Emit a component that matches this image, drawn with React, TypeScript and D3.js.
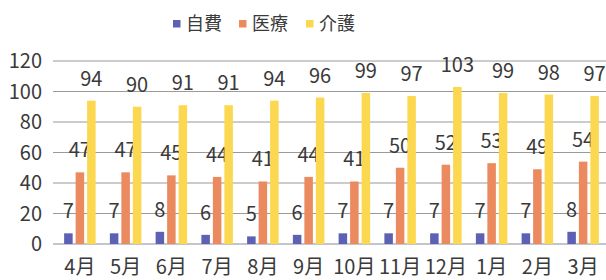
import React, { useEffect, useRef } from "react";
import * as d3 from "d3";

const months = ["4月", "5月", "6月", "7月", "8月", "9月", "10月", "11月", "12月", "1月", "2月", "3月"];
const seriesNames = ["自費", "医療", "介護"];
const jihi = [7, 7, 8, 6, 5, 6, 7, 7, 7, 7, 7, 8];
const iryo = [47, 47, 45, 44, 41, 44, 41, 50, 52, 53, 49, 54];
const kaigo = [94, 90, 91, 91, 94, 96, 99, 97, 103, 99, 98, 97];
const yTicks = [0, 20, 40, 60, 80, 100, 120];
const colors = ["#5d61b3", "#ec8a5f", "#fbd84f"];

const FONT = "'Noto Sans CJK JP', 'Noto Sans', sans-serif";

const App = () => {
  const ref = useRef<SVGSVGElement>(null);

  useEffect(() => {
    const svg = d3.select(ref.current);
    svg.selectAll("*").remove();

    const width = 606, height = 280;
    const values = [jihi, iryo, kaigo];

    const x = d3.scaleBand().domain(months).range([57, 606]).padding(0);
    const inner = d3.scaleBand().domain(seriesNames).range([-15.75, 15.75]).paddingInner(0.26);
    const y = d3.scaleLinear().domain([0, 120]).range([244, 61]);

    svg.append("rect").attr("width", width).attr("height", height).attr("fill", "#fff");

    // gridlines
    svg.append("g")
      .selectAll("line")
      .data(yTicks)
      .enter()
      .append("line")
      .attr("x1", 53)
      .attr("x2", width)
      .attr("y1", (d) => y(d))
      .attr("y2", (d) => y(d))
      .attr("stroke", (d) => (d === 0 ? "#8a8a9a" : "#9a9a9a"))
      .attr("stroke-width", 1.2);

    // y labels
    svg.append("g")
      .selectAll("text")
      .data(yTicks)
      .enter()
      .append("text")
      .attr("x", 42)
      .attr("y", (d) => y(d))
      .attr("dy", "0.36em")
      .attr("text-anchor", "end")
      .attr("font-family", FONT)
      .attr("font-size", 20)
      .attr("fill", "#3a3a3a")
      .text((d) => d);

    // bars + labels
    seriesNames.forEach((name, si) => {
      const cx = (i: number) => (x(months[i]) as number) + x.bandwidth() / 2 + (inner(name) as number);
      const g = svg.append("g");
      g.selectAll("rect")
        .data(values[si])
        .enter()
        .append("rect")
        .attr("x", (d, i) => cx(i))
        .attr("y", (d) => y(d))
        .attr("width", inner.bandwidth())
        .attr("height", (d) => y(0) - y(d))
        .attr("fill", colors[si]);
      g.selectAll("text")
        .data(values[si])
        .enter()
        .append("text")
        .attr("x", (d, i) => cx(i) + inner.bandwidth() / 2)
        .attr("y", (d) => y(d) - 15)
        .attr("text-anchor", "middle")
        .attr("font-family", FONT)
        .attr("font-size", 20)
        .attr("fill", "#3a3a3a")
        .text((d) => d);
    });

    // month labels
    svg.append("g")
      .selectAll("text")
      .data(months)
      .enter()
      .append("text")
      .attr("x", (d) => (x(d) as number) + x.bandwidth() / 2)
      .attr("y", 274)
      .attr("text-anchor", "middle")
      .attr("font-family", FONT)
      .attr("font-size", 20)
      .attr("fill", "#3a3a3a")
      .text((d) => d);

    // legend
    const legendX = [173, 239, 306];
    const legend = svg.append("g");
    seriesNames.forEach((name, i) => {
      legend.append("rect")
        .attr("x", legendX[i])
        .attr("y", 20)
        .attr("width", 7.5)
        .attr("height", 7.5)
        .attr("fill", colors[i]);
      legend.append("text")
        .attr("x", legendX[i] + 13)
        .attr("y", 24)
        .attr("dy", "0.36em")
        .attr("font-family", FONT)
        .attr("font-size", 18)
        .attr("fill", "#3a3a3a")
        .text(name);
    });
  }, []);

  return <svg ref={ref} width={606} height={280} style={{ position: "absolute", left: 0, top: 0 }} />;
};

export default App;
